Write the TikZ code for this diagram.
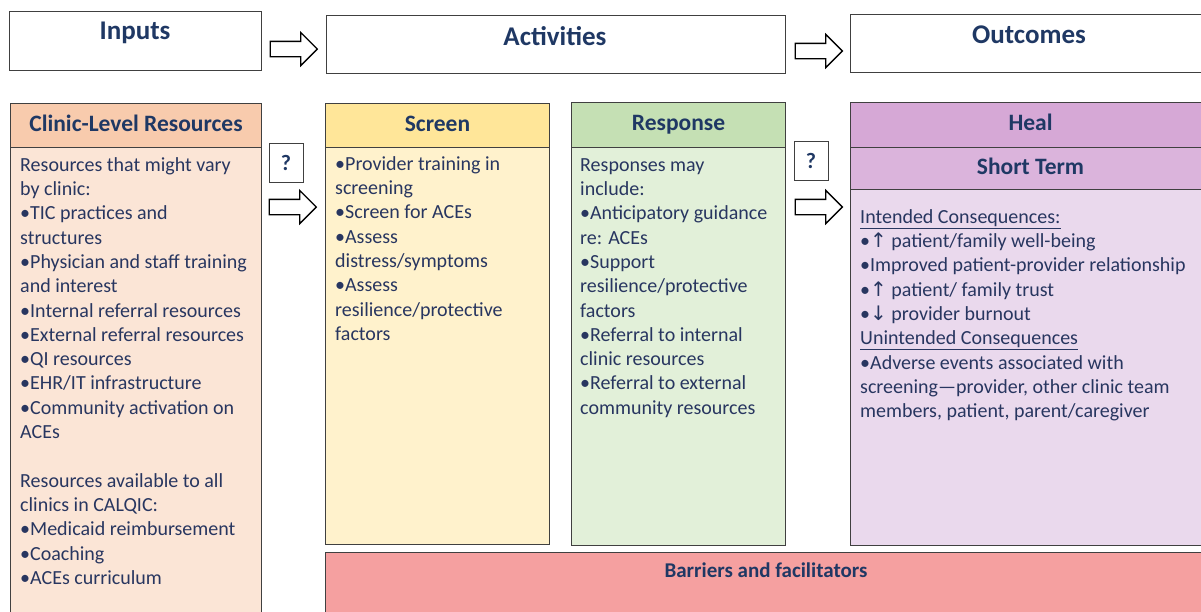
\documentclass[tikz,border=0pt]{standalone}
\usepackage{fontspec}
\setmainfont{Carlito}
\newfontfamily\symfont{DejaVu Sans}
\usetikzlibrary{shapes.arrows,positioning,calc}

\definecolor{titleblue}{RGB}{31,56,100}
\definecolor{bodyblue}{RGB}{40,54,96}
\definecolor{edgegray}{RGB}{64,64,64}
\definecolor{clinicHead}{RGB}{248,203,173}
\definecolor{clinicBody}{RGB}{251,229,214}
\definecolor{screenHead}{RGB}{255,230,153}
\definecolor{screenBody}{RGB}{255,242,204}
\definecolor{respHead}{RGB}{197,224,180}
\definecolor{respBody}{RGB}{226,240,217}
\definecolor{healHead}{RGB}{214,168,214}
\definecolor{termHead}{RGB}{219,180,220}
\definecolor{healBody}{RGB}{234,217,237}
\definecolor{barrierFill}{RGB}{245,160,160}

\tikzset{
  stagebox/.style={draw=edgegray, line width=1pt, fill=white, anchor=north west, inner sep=0pt},
  stagetxt/.style={font=\fontsize{27}{30}\selectfont\bfseries, text=titleblue},
  panelhead/.style={draw=edgegray, line width=1pt, anchor=north west, inner sep=0pt,
    font=\fontsize{23.5}{26}\selectfont\bfseries, text=titleblue, text height=16pt, text depth=5pt},
  panelbody/.style={draw=edgegray, line width=1pt, anchor=north west, inner sep=0pt},
  bodytxt/.style={font=\fontsize{20}{24.3}\selectfont, text=bodyblue, align=left,
    anchor=north west, inner sep=0pt},
  qbox/.style={draw=edgegray, line width=1pt, fill=white, minimum width=34pt, minimum height=39pt,
    inner sep=0pt, font=\fontsize{22}{24}\selectfont\bfseries, text=titleblue},
  fatarrow/.style={single arrow, draw=black, line width=1.3pt, fill=white, minimum height=47pt,
    inner xsep=0pt, inner ysep=7pt, text height=0pt, text depth=0pt, text width=0pt,
    single arrow head extend=9pt}
}
\newcommand{\bul}{\textbullet}
\newcommand{\up}{{\symfont\fontsize{20}{20}\selectfont ↑}}
\newcommand{\down}{{\symfont\fontsize{20}{20}\selectfont ↓}}

\begin{document}
\begin{tikzpicture}[x=1pt, y=-1pt]
  \clip (0,0) rectangle (1201,611);
  \fill[white] (0,0) rectangle (1201,611);

  % stage row
  \node[stagebox, minimum width=252pt, minimum height=59pt] (inputs) at (9,11) {};
  \node[stagebox, minimum width=459pt, minimum height=58pt] (activities) at (326,15) {};
  \node[stagebox, minimum width=370pt, minimum height=58pt] (outcomes) at (850,14) {};
  \node[stagetxt] (inputsLbl) at (135,33) {Inputs};
  \node[stagetxt] (activitiesLbl) at (555,36) {Activities};
  \node[stagetxt] (outcomesLbl) at (1029,35) {Outcomes};
  \node[fatarrow] (arrIA) at (290,49) {};
  \node[fatarrow] (arrAO) at (815,51) {};

  % clinic column
  \node[panelhead, fill=clinicHead, minimum width=251pt, minimum height=44pt] (clinicHd) at (10,103) {Clinic-Level Resources};
  \node[panelbody, fill=clinicBody, minimum width=251pt, minimum height=470pt] (clinicBd) at (10,147) {};
  \node[bodytxt] (clinicTxt) at (20,154) {\strut Resources that might vary\\
    by clinic:\\
    \bul TIC practices and\\
    structures\\
    \bul Physician and staff training\\
    and interest\\
    \bul Internal referral resources\\
    \bul External referral resources\\
    \bul QI resources\\
    \bul EHR/IT infrastructure\\
    \bul Community activation on\\
    ACEs\\
    \mbox{}\\
    Resources available to all\\
    clinics in CALQIC:\\
    \bul Medicaid reimbursement\\
    \bul Coaching\\
    \bul ACEs curriculum};

  % screen and response columns
  \node[panelhead, fill=screenHead, minimum width=224pt, minimum height=44pt] (screenHd) at (325,103) {Screen};
  \node[panelbody, fill=screenBody, minimum width=224pt, minimum height=397pt] (screenBd) at (325,147) {};
  \node[bodytxt] (screenTxt) at (335,153) {\strut\bul Provider training in\\
    screening\\
    \bul Screen for ACEs\\
    \bul Assess\\
    distress/symptoms\\
    \bul Assess\\
    resilience/protective\\
    factors};
  \node[panelhead, fill=respHead, minimum width=214pt, minimum height=45pt] (respHd) at (571,102) {Response};
  \node[panelbody, fill=respBody, minimum width=214pt, minimum height=398pt] (respBd) at (571,147) {};
  \node[bodytxt] (respTxt) at (580,154) {\strut Responses may\\
    include:\\
    \bul Anticipatory guidance\\
    re: ACEs\\
    \bul Support\\
    resilience/protective\\
    factors\\
    \bul Referral to internal\\
    clinic resources\\
    \bul Referral to external\\
    community resources};

  % heal column
  \node[panelhead, fill=healHead, minimum width=360pt, minimum height=45pt] (healHd) at (850,102) {Heal};
  \node[panelhead, fill=termHead, minimum width=360pt, minimum height=42pt] (termHd) at (850,147) {Short Term};
  \node[panelbody, fill=healBody, minimum width=360pt, minimum height=356pt] (healBd) at (850,189) {};
  \node[bodytxt] (healTxt) at (860,206) {\strut\underline{Intended Consequences:}\\
    \bul\up\ patient/family well-being\\
    \bul Improved patient-provider relationship\\
    \bul\up\ patient/ family trust\\
    \bul\down\ provider burnout\\
    \underline{Unintended Consequences}\\
    \bul Adverse events associated with\\
    screening---provider, other clinic team\\
    members, patient, parent/caregiver};

  % question marks and arrows between columns
  \node[qbox] (qA) at (286,163) {?};
  \node[qbox] (qB) at (811,161) {?};
  \node[fatarrow] (arrCS) at (289,207) {};
  \node[fatarrow] (arrRH) at (815,207) {};

  % barriers strip
  \node[panelbody, fill=barrierFill, minimum width=885pt, minimum height=65pt] (barrier) at (325,552) {};
  \node[font=\fontsize{21}{24}\selectfont\bfseries, text=titleblue] (barrierLbl) at (766,570) {Barriers and facilitators};
\end{tikzpicture}
\end{document}
